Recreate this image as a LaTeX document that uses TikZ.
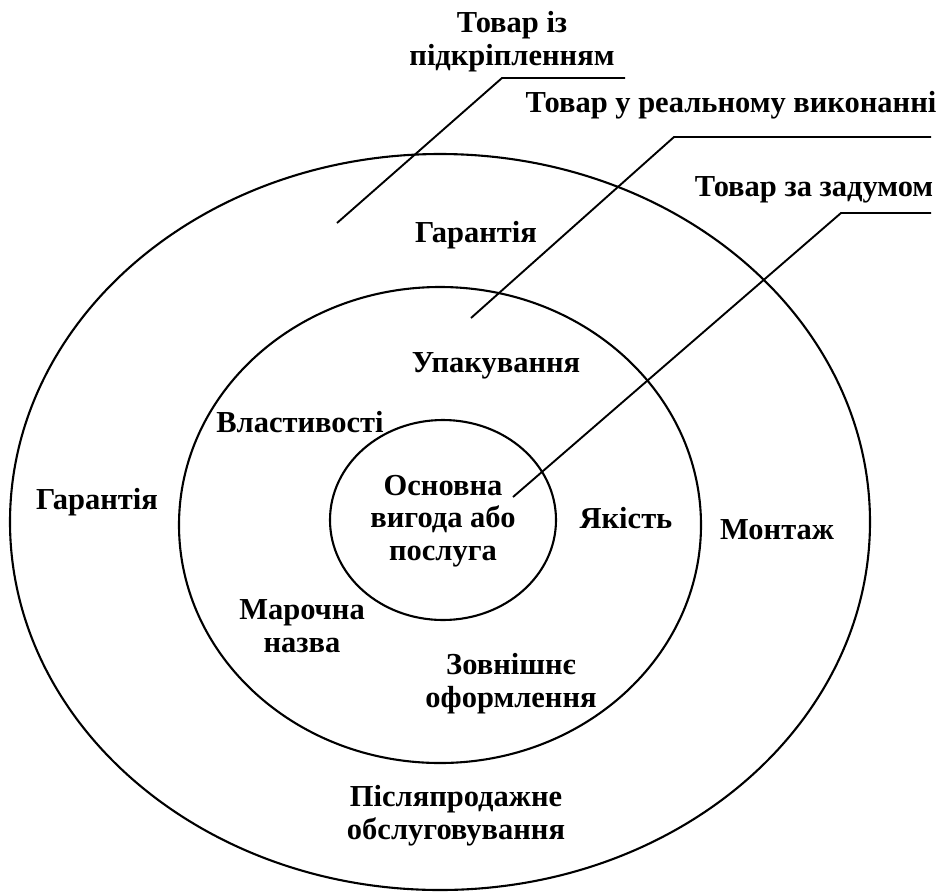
\documentclass[tikz,border=0pt]{standalone}
\usepackage{fontspec}
\setmainfont{Liberation Serif}
\usetikzlibrary{shapes.geometric}
\begin{document}
\begin{tikzpicture}[x=1pt,y=-1pt,
  lbl/.style={font=\bfseries\fontsize{30.5}{32.5}\selectfont, align=center, inner sep=0pt, anchor=base},
  ring/.style={draw, ellipse, line width=2.1pt, inner sep=0pt},
  lead/.style={line width=1.9pt}]
\useasboundingbox (0,0) rectangle (937,892);
\node[ring, minimum width=860pt, minimum height=736pt] (outer) at (440,522) {};
\node[ring, minimum width=522pt, minimum height=476pt] (middle) at (440,525) {};
\node[ring, minimum width=226pt, minimum height=200pt] (inner) at (443,520) {};

\node[lbl] (t1) at (512,65) {Товар із\\підкріпленням};
\node[lbl] (t2) at (731,112) {Товар у реальному виконанні};
\node[lbl] (t3) at (814,196) {Товар за задумом};
\node[lbl] (g1) at (476,242) {Гарантія};
\node[lbl] (up) at (496,372) {Упакування};
\node[lbl] (vl) at (300,432) {Властивості};
\node[lbl] (g2) at (97,509) {Гарантія};
\node[lbl] (core) at (443,560) {Основна\\вигода або\\послуга};
\node[lbl] (ya) at (626,528) {Якість};
\node[lbl] (mo) at (777,539) {Монтаж};
\node[lbl] (ma) at (302,652) {Марочна\\назва};
\node[lbl] (zo) at (511,707) {Зовнішнє\\оформлення};
\node[lbl] (pi) at (456,839) {Післяпродажне\\обслуговування};

\coordinate (a1) at (337,223); \coordinate (k1) at (502,78); \coordinate (e1) at (625,78);
\coordinate (a2) at (471,318); \coordinate (k2) at (674,137); \coordinate (e2) at (931,137);
\coordinate (a3) at (513,497); \coordinate (k3) at (841,213); \coordinate (e3) at (931,213);
\draw[lead] (a1) -- (k1) -- (e1);
\draw[lead] (a2) -- (k2) -- (e2);
\draw[lead] (a3) -- (k3) -- (e3);
\end{tikzpicture}
\end{document}
